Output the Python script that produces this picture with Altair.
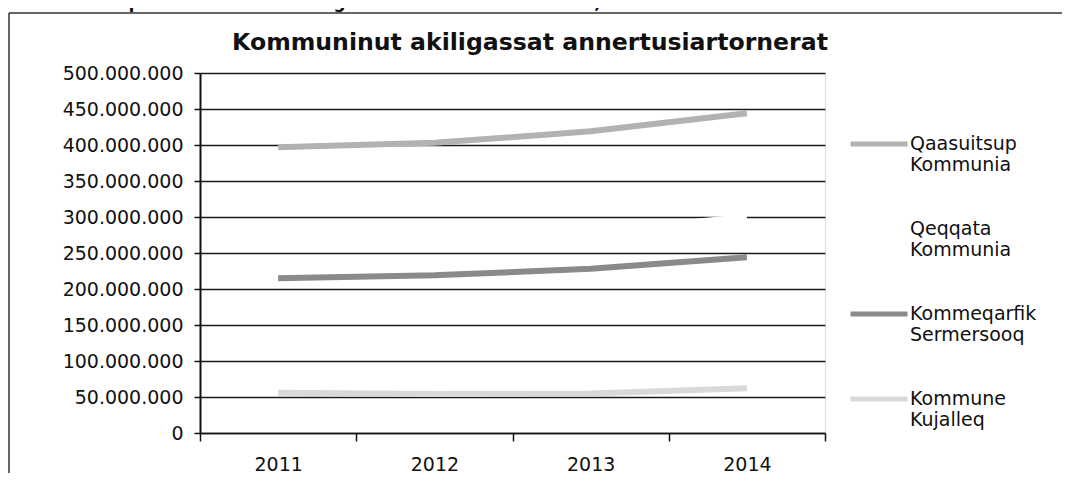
import altair as alt
import pandas as pd

years = ["2011", "2012", "2013", "2014"]
series = ["Qaasuitsup Kommunia", "Qeqqata Kommunia", "Kommeqarfik Sermersooq", "Kommune Kujalleq"]
qaasuitsup = [397e6, 403e6, 419e6, 444e6]
qeqqata = [262e6, 268e6, 280e6, 300e6]
sermersooq = [215e6, 219e6, 228e6, 244e6]
kujalleq = [56e6, 54e6, 55e6, 62e6]
colors = ["#b2b2b2", "#ffffff", "#8a8a8a", "#d9d9d9"]
y_ticks = [0, 50e6, 100e6, 150e6, 200e6, 250e6, 300e6, 350e6, 400e6, 450e6, 500e6]
chart_title = "Kommuninut akiligassat annertusiartornerat"
caption = "Takussutissaq 8: Kommuninut akiligassat annertusiartornerat, 2011 – 2014"

FONT = "DejaVu Sans"

rows = []
for name, vals in zip(series, [qaasuitsup, qeqqata, sermersooq, kujalleq]):
    for yr, v in zip(years, vals):
        rows.append({"year": yr, "series": name, "value": v})
df = pd.DataFrame(rows)

lines = alt.Chart(df).mark_line(strokeWidth=6, strokeCap="butt").encode(
    x=alt.X(
        "year:N",
        sort=years,
        scale=alt.Scale(type="band", paddingInner=0, paddingOuter=0),
        bandPosition=0.5,
        axis=alt.Axis(
            title=None,
            tickBand="extent",
            tickSize=8,
            tickColor="#111",
            tickWidth=1.5,
            labelPadding=14,
            labelFontSize=19,
            labelFont=FONT,
            labelColor="#111",
            labelAngle=0,
            domainColor="#111",
            domainWidth=1.5,
            grid=False,
        ),
    ),
    y=alt.Y(
        "value:Q",
        scale=alt.Scale(domain=[0, 500e6], nice=False),
        axis=alt.Axis(
            title=None,
            values=y_ticks,
            labelExpr="replace(format(datum.value, ','), regexp(',', 'g'), '.')",
            tickSize=6,
            tickColor="#111",
            tickWidth=1.5,
            labelPadding=11,
            labelFontSize=19,
            labelFont=FONT,
            labelColor="#111",
            domainColor="#111",
            domainWidth=2,
            grid=True,
            gridColor="#1a1a1a",
            gridWidth=1.6,
        ),
    ),
    color=alt.Color(
        "series:N",
        sort=series,
        scale=alt.Scale(domain=series, range=colors),
        legend=alt.Legend(
            orient="none",
            legendX=648,
            legendY=40,
            title=None,
            symbolType="stroke",
            symbolSize=3249,
            symbolStrokeWidth=5,
            labelFontSize=19,
            labelFont=FONT,
            labelColor="#111",
            labelOffset=0,
            labelBaseline="middle",
            labelExpr="split(datum.label, ' ')",
            rowPadding=23,
            padding=0,
        ),
    ),
)

one = pd.DataFrame({"k": [0]})
frame_left = alt.Chart(one).mark_rule(color="#333", strokeWidth=1.5).encode(
    x=alt.value(-191), y=alt.value(-60), y2=alt.value(400)
)
frame_top = alt.Chart(one).mark_rule(color="#333", strokeWidth=1.5).encode(
    x=alt.value(-191), x2=alt.value(862), y=alt.value(-60)
)
cap = alt.Chart(one).mark_text(
    text=caption, font=FONT, fontSize=17, fontWeight="bold", align="left",
    baseline="alphabetic", color="#111"
).encode(x=alt.value(-200), y=alt.value(-65))
title_mark = alt.Chart(one).mark_text(
    text=chart_title, font=FONT, fontSize=23.6, fontWeight="bold", align="center",
    baseline="alphabetic", color="#111"
).encode(x=alt.value(330), y=alt.value(-23))

chart = alt.layer(frame_left, frame_top, cap, title_mark, lines).properties(
    width=625,
    height=360,
    autosize=alt.AutoSizeParams(type="none"),
    padding={"left": 192, "top": 65, "right": 243, "bottom": 40},
).configure_view(stroke=None).configure(background="white")

chart.save("out.html", embed_options={"renderer": "svg", "actions": False})
